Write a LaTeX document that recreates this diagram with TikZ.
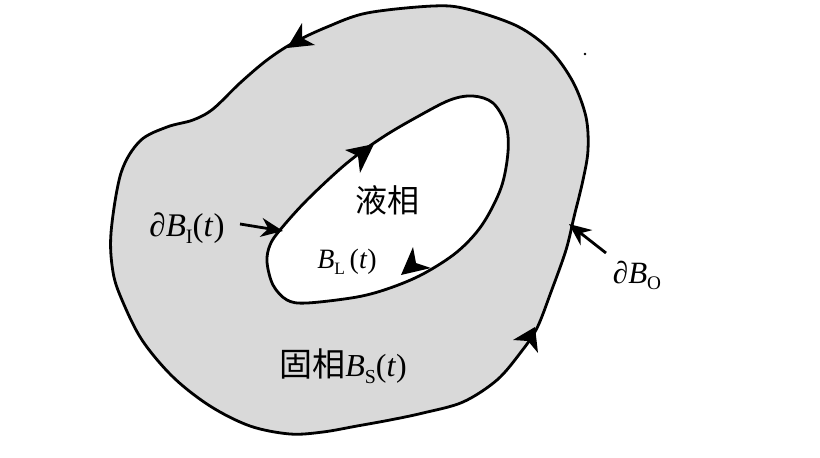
\documentclass[tikz,border=0pt]{standalone}
\usepackage{graphicx}
\usepackage{fontspec}
\setmainfont{Liberation Serif}
\newfontfamily\cjk{Noto Sans CJK SC}
\newcommand\lowsub[1]{\raisebox{-0.22em}{\scalebox{0.62}{#1}}}
\begin{document}
\begin{tikzpicture}[x=1pt,y=-1pt,
  boundary/.style={line width=2.8pt, line join=round},
  head/.style={fill=black},
  lbl/.style={inner sep=0pt, anchor=base, font=\fontsize{33}{35}\selectfont},
  ptr/.style={line width=2.8pt, -{Stealth[length=22pt,width=19pt]}}]
\useasboundingbox (0,0) rectangle (820,458);
\usetikzlibrary{arrows.meta}
% outer boundary (solid)
\draw[boundary, fill={rgb,255:red,217;green,217;blue,217}] plot[smooth cycle, tension=0.55] coordinates {
 (433,6) (367,13) (327,27) (293,43) (267,60) (240,83) (213,109) (193,120) (167,127) (140,141)
 (121,173) (111,233) (113,272) (122,300) (142,340) (173,377) (210,406) (250,426) (290,434)
 (323,432) (357,426) (390,420) (423,413) (463,402) (497,380) (521,352) (537,328) (551,292)
 (566,250) (574,217) (583,180) (588,150) (586,117) (573,82) (550,50) (517,26) (467,9)};
% inner boundary (hole)
\draw[boundary, fill=white] plot[smooth cycle, tension=0.55] coordinates {
 (280,230) (307,200) (347,163) (383,137) (417,117) (450,100) (473,96) (493,103) (506,125)
 (508,152) (501,188) (482,225) (457,252) (423,274) (390,288) (357,297) (307,303) (287,300)
 (273,285) (267,262) (270,245)};
% arrowheads on boundaries
\fill[head] (287,48) -- (302,23) -- (302,38) -- (315,45) -- cycle;
\fill[head] (535,327) -- (513,340) -- (528,341) -- (538,353) -- cycle;
\fill[head] (374,144) -- (345,150) -- (358,156) -- (360,173) -- cycle;
\fill[head] (401,275) -- (413,247) -- (416,263) -- (431,268) -- cycle;
% labels
\node[lbl] (bi) at (187,236) {∂\textit{B}\lowsub{I}(\textit{t})};
\node[lbl, font=\fontsize{31}{33}\selectfont] (bo) at (637,283) {∂\textit{B}\lowsub{O}};
\node[lbl, font=\fontsize{28}{30}\selectfont] (bl) at (347,268) {\textit{B}\lowsub{L}\,(\textit{t})};
\node[lbl, font=\fontsize{32}{34}\selectfont\cjk] (liq) at (387,212) {液相};
\node[lbl, font=\fontsize{32}{34}\selectfont] (bs) at (343,376) {{\fontsize{33}{35}\selectfont\cjk 固相}\textit{B}\lowsub{S}(\textit{t})};
% pointers
\coordinate (pi0) at (240,224);
\coordinate (pi1) at (283,231);
\coordinate (po0) at (606,253);
\coordinate (po1) at (569,224);
\draw[ptr] (pi0) -- (pi1);
\draw[ptr] (po0) -- (po1);
% stray dot
\fill (585,54) circle (1.3);
\end{tikzpicture}
\end{document}
